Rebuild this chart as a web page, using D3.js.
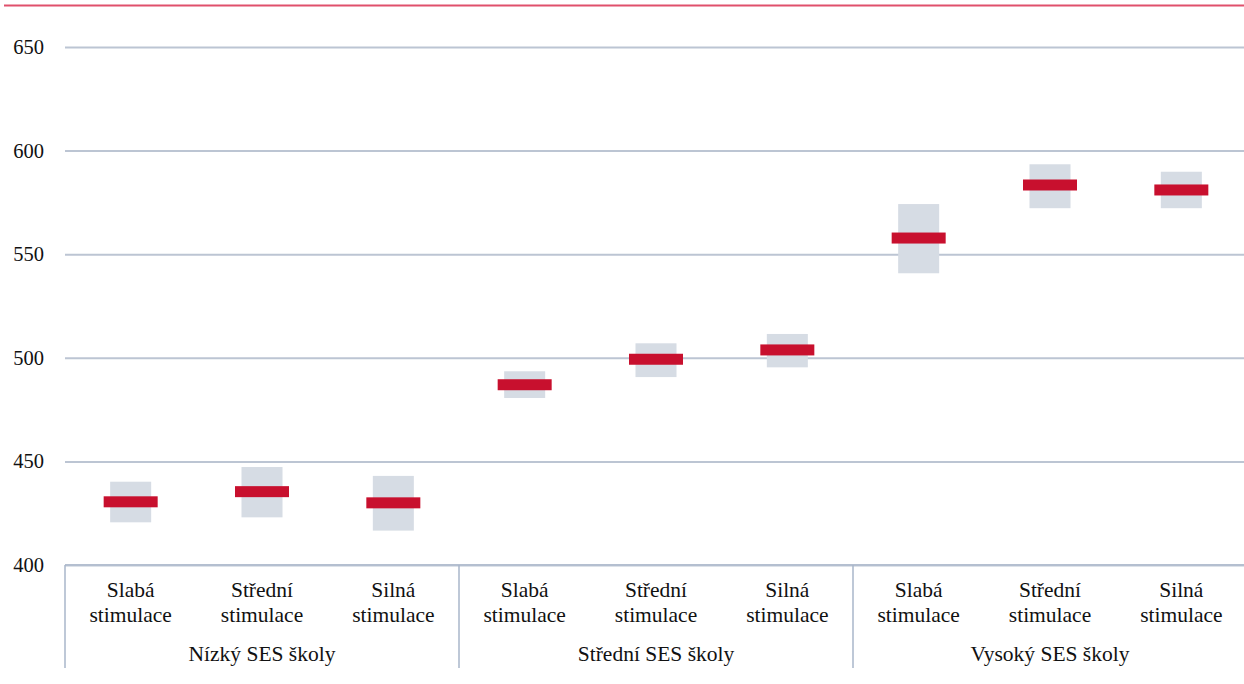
<!DOCTYPE html>
<html><head><meta charset="utf-8">
<script src="https://cdn.jsdelivr.net/npm/d3@7"></script>
<style>
body{margin:0;background:#fff;}
svg{display:block;}
</style></head>
<body>
<svg id="chart" width="1244" height="684"></svg>
<script>
const groups = ["Nízký SES školy", "Střední SES školy", "Vysoký SES školy"];
const levels = ["Slabá stimulace", "Střední stimulace", "Silná stimulace"];
const means = [430.5, 435.4, 430.0, 487.0, 499.3, 503.8, 557.8, 583.4, 581.0];
const lower = [420.6, 423.0, 416.6, 480.6, 490.7, 495.4, 540.8, 572.2, 572.2];
const upper = [440.2, 447.3, 443.0, 493.5, 507.0, 511.5, 574.2, 593.4, 589.8];
const yTicks = [400, 450, 500, 550, 600, 650];

const FONT = "Liberation Serif";

const data = [];
groups.forEach((g, gi) => levels.forEach((l, li) => {
  const i = gi * levels.length + li;
  data.push({key: g + "|" + l, group: g, level: l, mean: means[i], lo: lower[i], hi: upper[i]});
}));

const svg = d3.select("#chart");
const mLeft = 65, mRight = 1247, mTop = 47, mBottom = 565;

const y = d3.scaleLinear().domain([400, 650]).range([mBottom, mTop]);
const x = d3.scaleBand().domain(data.map(d => d.key)).range([mLeft, mRight]).paddingInner(0).paddingOuter(0);
const xg = d3.scaleBand().domain(groups).range([mLeft, mRight]);

// top decorative rule
svg.append("line").attr("x1", 4).attr("x2", 1244).attr("y1", 5.5).attr("y2", 5.5)
  .attr("stroke", "#e0506c").attr("stroke-width", 2);

// gridlines
const yAxis = d3.axisLeft(y).tickValues(yTicks).tickSize(-(mRight - mLeft)).tickFormat(d3.format("d"));
const ga = svg.append("g").attr("transform", `translate(${mLeft},0)`).call(yAxis);
ga.attr("font-family", FONT).attr("font-size", 20);
ga.select(".domain").remove();
ga.selectAll(".tick line").attr("stroke", "#bcc5d3").attr("stroke-width", 2);
ga.selectAll(".tick text").attr("x", -21).attr("dy", "0.32em")
  .attr("font-family", FONT).attr("font-size", 20.5).attr("fill", "#111");

// CI boxes
const boxW = 41, markW = 54, markH = 11;
svg.append("g").selectAll("rect").data(data).join("rect")
  .attr("x", d => x(d.key) + x.bandwidth() / 2 - boxW / 2)
  .attr("width", boxW)
  .attr("y", d => y(d.hi))
  .attr("height", d => y(d.lo) - y(d.hi))
  .attr("fill", "#d6dce4");

// mean marks
svg.append("g").selectAll("rect").data(data).join("rect")
  .attr("x", d => x(d.key) + x.bandwidth() / 2 - markW / 2)
  .attr("width", markW)
  .attr("y", d => y(d.mean) - markH / 2)
  .attr("height", markH)
  .attr("fill", "#c8102e");

// bottom axis line and separators
svg.append("line").attr("x1", mLeft).attr("x2", mRight).attr("y1", mBottom).attr("y2", mBottom)
  .attr("stroke", "#b4bfd0").attr("stroke-width", 2);
svg.append("g").selectAll("line").data(groups).join("line")
  .attr("x1", d => xg(d)).attr("x2", d => xg(d))
  .attr("y1", mBottom).attr("y2", 668)
  .attr("stroke", "#a9b6ca").attr("stroke-width", 1.5);

// category labels
const cat = svg.append("g").selectAll("text").data(data).join("text")
  .attr("text-anchor", "middle")
  .attr("font-family", FONT).attr("font-size", 21.5).attr("fill", "#111");
cat.each(function(d) {
  const parts = d.level.split(" ");
  const t = d3.select(this);
  const cx = x(d.key) + x.bandwidth() / 2;
  t.append("tspan").attr("x", cx).attr("y", 597).text(parts[0]);
  t.append("tspan").attr("x", cx).attr("y", 622).text(parts[1]);
});

// group labels
svg.append("g").selectAll("text").data(groups).join("text")
  .attr("x", d => xg(d) + xg.bandwidth() / 2)
  .attr("y", 661)
  .attr("text-anchor", "middle")
  .attr("font-family", FONT).attr("font-size", 21.5).attr("fill", "#111")
  .text(d => d);
</script>
</body></html>
